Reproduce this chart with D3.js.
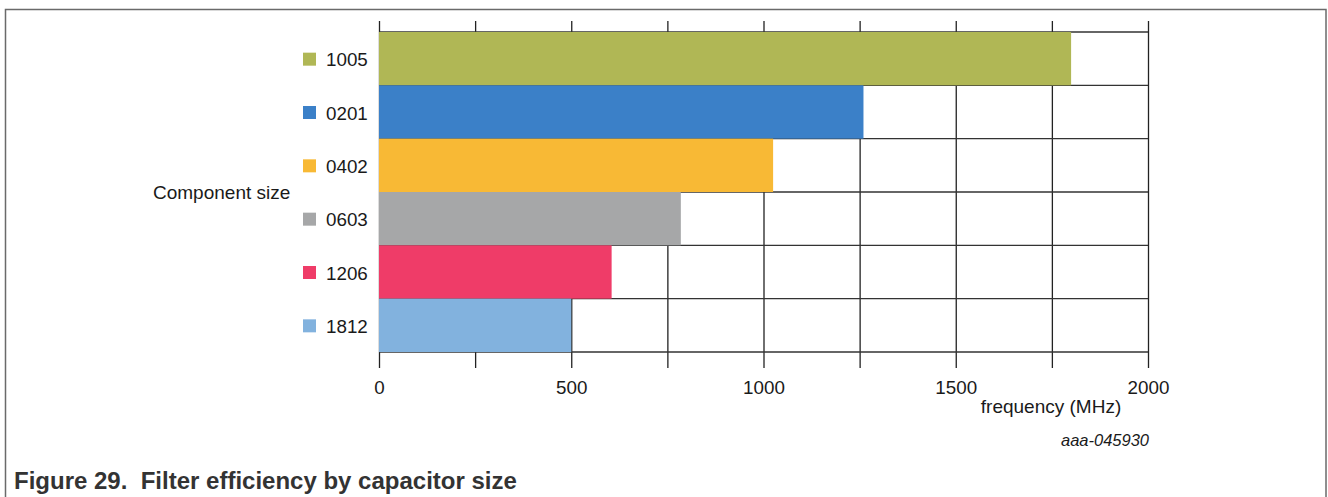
<!DOCTYPE html>
<html>
<head>
<meta charset="utf-8">
<script src="https://cdn.jsdelivr.net/npm/d3@7"></script>
<style>
  body { margin: 0; background: #fff; }
  svg { display: block; font-family: "Liberation Sans", Arial, sans-serif; }
</style>
</head>
<body>
<svg id="chart"></svg>
<script>
// data
var sizes = ["1005", "0201", "0402", "0603", "1206", "1812"];
var freqs = [1800, 1260, 1025, 785, 605, 500];
var tickLabels = [0, 500, 1000, 1500, 2000];
var gridSteps = [0, 250, 500, 750, 1000, 1250, 1500, 1750, 2000];

var w = 1328;
var h = 497;

const color = (d) => {
    if (d === "1005") return "#b0b755";
    if (d === "0201") return "#3b80c8";
    if (d === "0402") return "#f8b935";
    if (d === "0603") return "#a6a7a8";
    if (d === "1206") return "#ef3c68";
    return "#82b2de";
}

var svg = d3.select("#chart")
    .attr("width", w)
    .attr("height", h);

// outer frame
svg.append("rect")
    .attr("x", 5.5)
    .attr("y", 9.5)
    .attr("width", 1320.5)
    .attr("height", 520)
    .attr("fill", "none")
    .attr("stroke", "#6a6a6a")
    .attr("stroke-width", 1.5);

//scales
var x = d3.scaleLinear()
    .domain([0, 2000])
    .range([379, 1148]);

var y = d3.scaleBand()
    .domain(sizes)
    .range([32, 352])
    .padding(0);

//vertical grid + ticks, drawn as one axis sitting below the plot
var xAxis = d3.axisBottom(x)
    .tickValues(gridSteps)
    .tickSize(-(368 - 21))
    .tickPadding(12.5)
    .tickFormat(function(d) { return tickLabels.indexOf(d) >= 0 ? d : ""; });

var gx = svg.append("g")
    .attr("transform", "translate(0,368)")
    .call(xAxis);
gx.select(".domain").remove();
gx.selectAll("line").attr("stroke", "#222").attr("stroke-width", 1.3);
gx.selectAll("text")
    .attr("fill", "#1a1a1a")
    .style("font-size", "18.8px")
    .style("font-family", "'Liberation Sans', Arial, sans-serif");

//horizontal lines on band edges
var edges = sizes.map(function(d) { return y(d); }).concat([y.range()[1]]);
svg.append("g")
    .selectAll("line")
    .data(edges)
    .join("line")
    .attr("x1", x(0))
    .attr("x2", x(2000))
    .attr("y1", function(d) { return d; })
    .attr("y2", function(d) { return d; })
    .attr("stroke", "#333")
    .attr("stroke-width", 1.3);

//bars
svg.append("g")
    .selectAll("rect")
    .data(sizes)
    .join("rect")
    .attr("x", x(0))
    .attr("y", function(d) { return y(d); })
    .attr("width", function(d, i) { return x(freqs[i]) - x(0); })
    .attr("height", y.bandwidth())
    .attr("fill", function(d) { return color(d); });

//legend on the left
var legend = svg.append("g")
    .selectAll("g")
    .data(sizes)
    .join("g")
    .attr("transform", function(d) {
        return "translate(0," + (y(d) + y.bandwidth() / 2) + ")";
    });

legend.append("rect")
    .attr("x", 303)
    .attr("y", -6)
    .attr("width", 13)
    .attr("height", 13)
    .attr("fill", function(d) { return color(d); });

legend.append("text")
    .attr("x", 326)
    .attr("y", 7.5)
    .attr("fill", "#1a1a1a")
    .style("font-size", "18.8px")
    .text(function(d) { return d; });

//axis labels
svg.append("text")
    .attr("x", 153)
    .attr("y", 199)
    .attr("fill", "#1a1a1a")
    .style("font-size", "19px")
    .text("Component size");

svg.append("text")
    .attr("x", 1051)
    .attr("y", 413)
    .attr("text-anchor", "middle")
    .attr("fill", "#1a1a1a")
    .style("font-size", "19px")
    .text("frequency (MHz)");

svg.append("text")
    .attr("x", 1105)
    .attr("y", 446)
    .attr("text-anchor", "middle")
    .attr("fill", "#1a1a1a")
    .style("font-size", "16.5px")
    .style("font-style", "italic")
    .text("aaa-045930");

//figure caption
svg.append("text")
    .attr("x", 14)
    .attr("y", 489)
    .attr("fill", "#333")
    .style("font-size", "24px")
    .style("font-weight", "bold")
    .attr("xml:space", "preserve")
    .style("white-space", "pre")
    .text("Figure 29.  Filter efficiency by capacitor size");
</script>
</body>
</html>
